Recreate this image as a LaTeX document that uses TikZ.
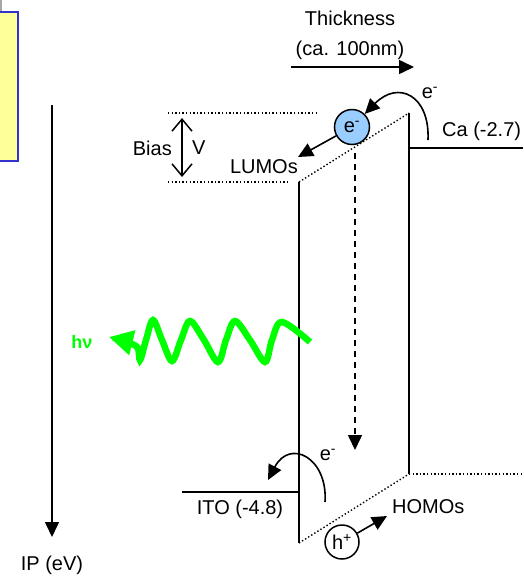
\documentclass[tikz,border=0pt]{standalone}
\usepackage{fontspec}
\setmainfont{Liberation Sans}
\usetikzlibrary{arrows.meta, positioning}

\definecolor{padyellow}{HTML}{FFFF99}
\definecolor{padblue}{HTML}{3333CC}
\definecolor{elecblue}{HTML}{99CCFF}
\definecolor{photon}{HTML}{00FF00}

\begin{document}
\begin{tikzpicture}[x=1pt, y=-1pt, font=\fontsize{20}{24}\selectfont,
  lbl/.style={inner sep=0pt},
  tip/.style={-{Triangle[length=15pt, width=14pt]}, line width=1.6pt},
  level/.style={line width=1.6pt},
  edge/.style={line width=2pt},
  dots/.style={line width=1.4pt, dash pattern=on 1.4pt off 2.2pt},
  carrier/.style={draw, circle, line width=1.5pt, minimum size=35pt, inner sep=0pt}]
\useasboundingbox (0,0) rectangle (523,579);

% note box, cut at the left border
\fill[gray!70] (-5,0) rectangle (2,12);
\draw[padblue, fill=padyellow, line width=1.5pt] (-5,12) rectangle (18,161);

% energy axis
\coordinate (axtop) at (52,105);
\coordinate (axend) at (52,537);
\node[lbl] (ip) at (52,565) {IP (eV)};
\draw[tip] (axtop) -- (axend);

% thickness
\node[lbl] (thick) at (350,18) {Thickness};
\node[lbl] (thicknm) at (350,50) {(ca. 100nm)};
\coordinate (thA) at (291,67);
\coordinate (thB) at (414,67);
\draw[tip] (thA) -- (thB);

% bias
\coordinate (biasTL) at (168,113);
\coordinate (biasTR) at (318,113);
\coordinate (biasBL) at (168,182);
\coordinate (biasBR) at (290,182);
\draw[dots] (biasTL) -- (biasTR);
\draw[dots] (biasBL) -- (biasBR);
\coordinate (vtop) at (182,118);
\coordinate (vbot) at (182,177);
\draw[{Straight Barb[length=12pt, width=20pt]}-{Straight Barb[length=12pt, width=20pt]}, line width=1.5pt] (vtop) -- (vbot);
\node[lbl, anchor=east] (bias) at (172,148) {Bias};
\node[lbl, anchor=west] (volt) at (192,148) {V};

% organic layer
\coordinate (lumoL) at (299,182);
\coordinate (lumoR) at (409,113);
\coordinate (homoL) at (299,543);
\coordinate (homoR) at (409,474);
\coordinate (homoE) at (523,474);
\draw[edge] (lumoL) -- (homoL);
\draw[edge] (lumoR) -- (homoR);
\draw[dots] (lumoL) -- (lumoR);
\draw[dots] (homoL) -- (homoR);
\draw[dots] (homoR) -- (homoE);

% electrodes
\coordinate (caL) at (409,148);
\coordinate (caR) at (523,148);
\draw[level] (caL) -- (caR);
\node[lbl, anchor=west] (ca) at (442,131) {Ca (-2.7)};
\coordinate (itoL) at (182,492);
\coordinate (itoR) at (299,492);
\draw[level] (itoL) -- (itoR);
\node[lbl] (ito) at (240,509) {ITO (-4.8)};

\node[lbl, anchor=east] (lumos) at (298,167) {LUMOs};
\node[lbl, anchor=west] (homos) at (392,507) {HOMOs};

% electron injection
\node[carrier, fill=elecblue] (ecirc) at (352,127) {e\textsuperscript{-}};
\coordinate (cahop) at (428,140);
\draw[tip] (cahop) .. controls (430,95) and (398,80) .. (ecirc);
\node[lbl] (ehop) at (430,93) {e\textsuperscript{-}};
\coordinate (lumoarr) at (298,157);
\draw[tip] (ecirc) -- (lumoarr);
\coordinate (dropTop) at (355,153);
\coordinate (dropEnd) at (355,450);
\draw[tip, dash pattern=on 6pt off 5pt] (dropTop) -- (dropEnd);

% hole injection
\coordinate (itohop) at (325,502);
\coordinate (itoarr) at (268,480);
\draw[tip] (itohop) .. controls (328,458) and (290,438) .. (itoarr);
\node[lbl] (ehop2) at (328,455) {e\textsuperscript{-}};
\node[carrier, minimum size=34pt] (hcirc) at (342,542) {h\textsuperscript{+}};
\coordinate (homoarr) at (387,516);
\draw[tip] (hcirc) -- (homoarr);

% emission
\node[lbl, text=photon, font=\bfseries\fontsize{18}{21}\selectfont] (hv) at (82,342) {hν};
\draw[photon, line width=6.5pt, -{Triangle[length=24pt, width=24pt]}]
  plot[smooth, tension=0.55] coordinates {(310,342) (282,322) (272,340) (265,362) (250,340) (235,321) (226,340) (218,362) (204,340) (190,321) (181,340) (172,361) (162,340) (153,320) (146,340) (140,360) (136,346) (109,337)};
\end{tikzpicture}
\end{document}
